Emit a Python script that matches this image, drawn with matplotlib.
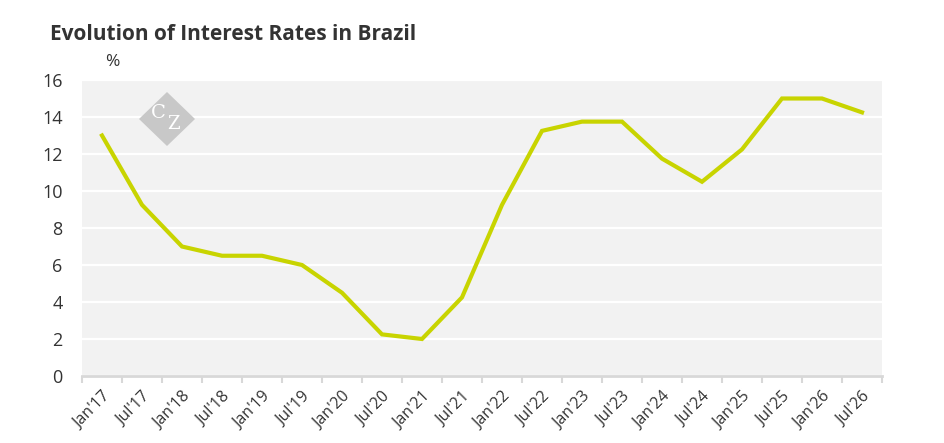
import matplotlib.pyplot as plt
from matplotlib.patches import Polygon

# Données (taux en %)
periodes = ["Jan'17", "Jul'17", "Jan'18", "Jul'18", "Jan'19", "Jul'19", "Jan'20",
            "Jul'20", "Jan'21", "Jul'21", "Jan'22", "Jul'22", "Jan'23", "Jul'23",
            "Jan'24", "Jul'24", "Jan'25", "Jul'25", "Jan'26", "Jul'26"]
taux = [13.0, 9.25, 7.0, 6.5, 6.5, 6.0, 4.5, 2.25, 2.0, 4.25,
        9.25, 13.25, 13.75, 13.75, 11.75, 10.5, 12.25, 15.0, 15.0, 14.25]
graduations_y = [0, 2, 4, 6, 8, 10, 12, 14, 16]

plt.rcParams['font.family'] = ['Open Sans', 'DejaVu Sans']

fig = plt.figure(figsize=(9.45, 4.43), dpi=100)
ax = fig.add_axes([82 / 945, 67 / 443, 800 / 945, 296 / 443])
ax.set_facecolor("#f2f2f2")

x = list(range(len(periodes)))
ax.plot(x, taux, color="#c8d400", linewidth=3, solid_joinstyle="miter", zorder=3)

ax.set_xlim(-0.5, len(periodes) - 0.5)
ax.set_ylim(0, 16)
ax.set_yticks(graduations_y)
ax.set_yticklabels([str(v) for v in graduations_y], fontsize=13, color="#333333")
ax.tick_params(axis='y', length=0, pad=14)

# étiquettes au centre, traits aux limites des catégories
ax.set_xticks(x)
ax.set_xticklabels(periodes, rotation=45, ha='right', va='top',
                   rotation_mode='anchor', fontsize=11.5, color="#333333")
ax.tick_params(axis='x', which='major', length=0, pad=9)
ax.set_xticks([i - 0.5 for i in range(len(periodes) + 1)], minor=True)
ax.tick_params(axis='x', which='minor', length=5, width=1.5, color="#d8d8d8")

ax.grid(True, axis='y', color="white", linewidth=1.6, zorder=1)
ax.set_axisbelow(True)
for cote in ["top", "right", "left"]:
    ax.spines[cote].set_visible(False)
ax.spines["bottom"].set_color("#d8d8d8")
ax.spines["bottom"].set_linewidth(2)

# titre et unité
fig.text(50 / 945, 1 - 34 / 443, "Evolution of Interest Rates in Brazil",
         fontsize=15, fontweight="bold", color="#333333", va="center")
fig.text(112 / 945, 1 - 62 / 443, "%", fontsize=12.5, color="#333333",
         ha="center", va="center")

# filigrane
cx, cy, dx, dy = 167, 119, 28, 27
losange = Polygon([((cx - dx) / 945, 1 - cy / 443), (cx / 945, 1 - (cy - dy) / 443),
                   ((cx + dx) / 945, 1 - cy / 443), (cx / 945, 1 - (cy + dy) / 443)],
                  closed=True, transform=fig.transFigure, facecolor="#c8c8c8",
                  edgecolor="none", zorder=2)
fig.patches.append(losange)
fig.text(158.5 / 945, 1 - 113 / 443, "C", fontsize=14, color="white",
         family="DejaVu Serif", ha="center", va="center", zorder=4)
fig.text(174 / 945, 1 - 124 / 443, "Z", fontsize=13, color="white",
         family="DejaVu Serif", ha="center", va="center", zorder=4)

fig.savefig("out.png", dpi=100)
